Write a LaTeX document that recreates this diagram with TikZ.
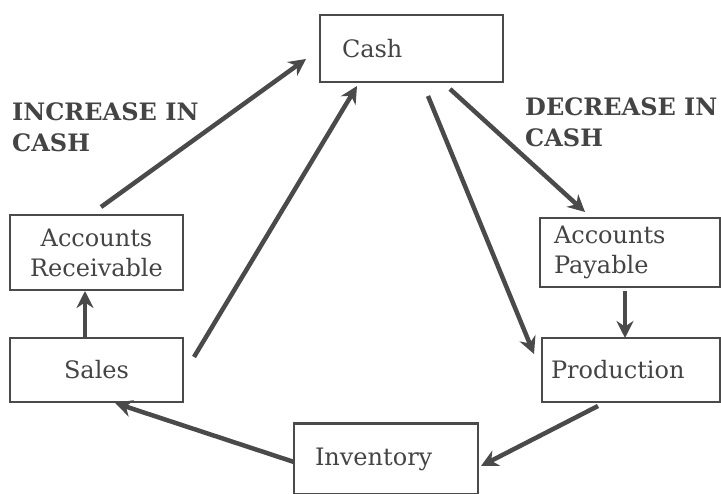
\documentclass[tikz,border=0pt]{standalone}
\usepackage{fontspec}
\setmainfont{DejaVu Serif}
\usetikzlibrary{arrows.meta}
\definecolor{ink}{HTML}{4A4A4A}
\definecolor{txt}{HTML}{444444}
\tikzset{
  box/.style={draw=ink, line width=2.4pt, rectangle, inner ysep=0pt, text=txt,
    font=\fontsize{24}{30}\selectfont},
  flow/.style={draw=ink, line width=4.5pt, -{Stealth[length=17pt,width=17pt]}},
  lab/.style={text=txt, font=\fontsize{24}{31}\selectfont\bfseries, align=left, anchor=north west, inner sep=0pt}
}
\begin{document}
\begin{tikzpicture}[x=1pt,y=-1pt]
\useasboundingbox (0,0) rectangle (721,494);
% boxes
\node[box, minimum width=183, minimum height=67, inner xsep=22, text width=139, align=left] (cash) at (411.5,48.5) {Cash};
\node[box, minimum width=173, minimum height=75, align=center] (ar) at (96.5,252.5) {Accounts\\Receivable};
\node[box, minimum width=173, minimum height=64, align=center] (sales) at (96.5,370) {Sales};
\node[box, minimum width=180, minimum height=69, inner xsep=14, text width=152, align=left] (ap) at (630,252.5) {Accounts\\Payable};
\node[box, minimum width=178, minimum height=64, inner xsep=9, text width=160, align=left] (prod) at (631,370) {Production};
\node[box, minimum width=184, minimum height=71, inner xsep=21, text width=142, align=left] (inv) at (386,459) {Inventory};
% labels
\node[lab] (inc) at (12,102) {INCREASE IN\\CASH};
\node[lab] (dec) at (525,97) {DECREASE IN\\CASH};
% connector end points
\coordinate (arout) at (101,207);
\coordinate (cashinA) at (306,59);
\coordinate (salesout) at (194,357);
\coordinate (cashinB) at (357,86);
\coordinate (cashoutA) at (428,96);
\coordinate (prodin) at (534,354);
\coordinate (cashoutB) at (450,89);
\coordinate (apin) at (585,212);
\coordinate (apout) at (625,291);
\coordinate (prodtop) at (625,338);
\coordinate (prodout) at (598,406);
\coordinate (invin) at (481,466);
\coordinate (invout) at (294,462);
\coordinate (salesin) at (115,403);
\coordinate (salestop) at (85,337);
\coordinate (arin) at (85,291);
% connectors
\draw[flow] (arout) -- (cashinA);
\draw[flow] (salesout) -- (cashinB);
\draw[flow] (cashoutA) -- (prodin);
\draw[flow] (cashoutB) -- (apin);
\draw[flow] (apout) -- (prodtop);
\draw[flow] (prodout) -- (invin);
\draw[flow] (invout) -- (salesin);
\draw[flow] (salestop) -- (arin);
\end{tikzpicture}
\end{document}
